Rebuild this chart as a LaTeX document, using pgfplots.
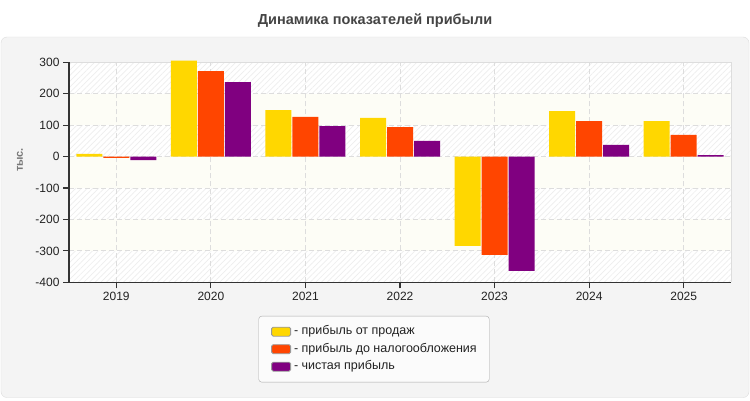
\documentclass[border=0pt]{standalone}
\usepackage{fontspec}
\setmainfont{Liberation Sans}
\usepackage{pgfplots}
\pgfplotsset{compat=1.18}
\usetikzlibrary{patterns.meta}
\definecolor{panelbg}{HTML}{F4F4F4}
\definecolor{panelborder}{HTML}{DDDDDD}
\definecolor{gridc}{HTML}{DDDDDD}
\definecolor{axisdark}{HTML}{333333}
\definecolor{bandyellow}{HTML}{FDFDF6}
\definecolor{hatch}{HTML}{EEEEEE}
\definecolor{cYellow}{HTML}{FFD700}
\definecolor{cOrange}{HTML}{FF4500}
\definecolor{cPurple}{HTML}{800080}
\definecolor{titlec}{HTML}{444444}
\definecolor{labelc}{HTML}{777777}
\definecolor{textc}{HTML}{222222}
\definecolor{legbox}{HTML}{AAAAAA}
\definecolor{legfill}{HTML}{FBFBFB}
\tikzset{hatchband/.style={preaction={fill=white}, pattern={Lines[angle=45,distance=4bp,line width=0.7bp]}, pattern color=hatch}}
\pgfplotsset{
  layers/mylayers/.define layer set={
    bgpanel, axis background, axis grid, axis ticks, axis lines, axis tick labels,
    pre main, main, axis descriptions, axis foreground
  }{},
}

\begin{document}
\begin{tikzpicture}[x=1bp,y=1bp]
\pgfplotsset{set layers=mylayers}
\begin{pgfonlayer}{bgpanel}
\fill[white] (0,0) rectangle (750,400);
\filldraw[fill=panelbg, draw=panelborder, rounded corners=6bp] (1,2.5) rectangle (749,363);
\end{pgfonlayer}
\node[font=\bfseries\fontsize{14.5bp}{16bp}\selectfont, text=titlec] at (375,379) {Динамика показателей прибыли};
\begin{axis}[
  set layers=mylayers,
  at={(69bp,117.7bp)}, anchor=south west,
  scale only axis, width=662bp, height=220bp,
  ybar=1bp, bar width=26bp,
  xmin=-0.5, xmax=6.5, ymin=-400, ymax=300,
  xtick={0,1,2,3,4,5,6},
  xticklabels={2019,2020,2021,2022,2023,2024,2025},
  ytick={-400,-300,-200,-100,0,100,200,300},
  axis x line*=bottom, axis y line*=left,
  axis line style={axisdark, line width=1.2bp},
  tick align=outside, major tick length=6bp,
  tick style={axisdark, line width=1.2bp},
  grid=major,
  major grid style={gridc, dash pattern=on 5bp off 3bp, line width=0.8bp},
  ticklabel style={font=\fontsize{12bp}{14bp}\selectfont, text=textc},
  /pgf/number format/assume math mode=true,
  ylabel={тыс.},
  ylabel style={at={(axis description cs:-0.074,0.556)}, anchor=center,
    font=\bfseries\fontsize{11bp}{13bp}\selectfont, text=labelc},
  clip=false,
  legend style={at={(axis description cs:0.4607,-0.153)}, anchor=north,
    draw=legbox, fill=legfill, rounded corners=3bp,
    font=\fontsize{12.5bp}{14bp}\selectfont, text=textc,
    inner xsep=12.5bp, inner ysep=9.5bp, row sep=5.5bp, column sep=3bp,
    nodes={inner sep=0pt, text height=9bp, text depth=3bp}},
  legend cell align=left,
  legend image code/.code={\draw[#1, draw=gray!80, line width=0.8bp, rounded corners=1.5bp] (0bp,-4.5bp) rectangle (19bp,4.5bp);},
]
\begin{pgfonlayer}{axis background}
  \fill[hatchband] (axis cs:-0.5,200) rectangle (axis cs:6.5,300);
  \fill[hatchband] (axis cs:-0.5,0) rectangle (axis cs:6.5,100);
  \fill[hatchband] (axis cs:-0.5,-200) rectangle (axis cs:6.5,-100);
  \fill[hatchband] (axis cs:-0.5,-400) rectangle (axis cs:6.5,-300);
  \fill[bandyellow] (axis cs:-0.5,100) rectangle (axis cs:6.5,200);
  \fill[bandyellow] (axis cs:-0.5,-100) rectangle (axis cs:6.5,0);
  \fill[bandyellow] (axis cs:-0.5,-300) rectangle (axis cs:6.5,-200);
  \draw[gridc, line width=1bp] (rel axis cs:0,1) -- (rel axis cs:1,1) -- (rel axis cs:1,0);
\end{pgfonlayer}
\addplot[fill=cYellow, draw=none] coordinates {(0,9) (1,305) (2,148) (3,123) (4,-284) (5,145) (6,113)};
\addlegendentry{- прибыль от продаж}
\addplot[fill=cOrange, draw=none] coordinates {(0,-4) (1,272) (2,126) (3,94) (4,-313) (5,113) (6,69)};
\addlegendentry{- прибыль до налогообложения}
\addplot[fill=cPurple, draw=none] coordinates {(0,-11) (1,237) (2,97) (3,50) (4,-364) (5,37) (6,5)};
\addlegendentry{- чистая прибыль}
\end{axis}
\end{tikzpicture}
\end{document}
